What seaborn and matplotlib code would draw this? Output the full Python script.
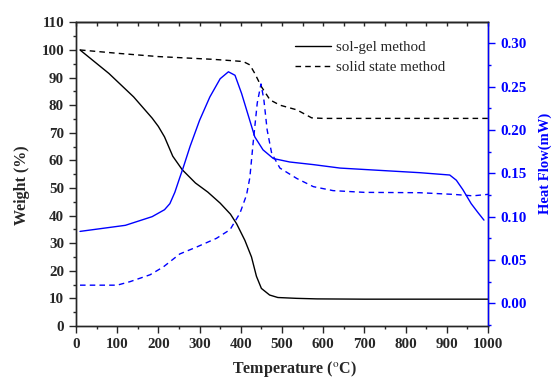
import matplotlib
matplotlib.use("Agg")
import matplotlib.pyplot as plt
import seaborn as sns
import numpy as np
import pandas as pd
from matplotlib.ticker import MultipleLocator, FormatStrFormatter

# weight loss curves (%)
sg_temp = [10, 80, 140, 185, 200, 215, 235, 258, 290, 320, 350, 375, 390, 410, 426,
           438, 450, 470, 490, 535, 585, 700, 800, 900, 1000]
sg_weight = [100, 91.5, 83, 75.3, 72.3, 68.5, 61.5, 56.6, 51.8, 48.5, 44.5, 40.5, 37, 31, 25,
             18, 13.6, 11.2, 10.3, 10, 9.8, 9.7, 9.7, 9.7, 9.7]

ss_temp = [10, 100, 200, 280, 333, 380, 406, 422, 434, 450, 471, 495, 536, 572,
           600, 700, 800, 900, 1000]
ss_weight = [100, 98.8, 97.6, 97, 96.6, 96.1, 95.8, 94.6, 91.5, 86.7, 81.9, 80, 78.3, 75.4,
             75.2, 75.2, 75.2, 75.2, 75.2]

# heat flow curves (mW)
sg_hf_temp = [10, 120, 185, 215, 228, 240, 252, 260, 277, 300, 325, 350, 370, 386,
              402, 418, 434, 454, 479, 519, 576, 641, 750, 834, 907, 923, 939, 959,
              975, 990]
sg_hf = [0.083, 0.090, 0.100, 0.108, 0.115, 0.128, 0.145, 0.156, 0.181, 0.211,
         0.238, 0.259, 0.267, 0.263, 0.242, 0.217, 0.192, 0.177, 0.167, 0.163,
         0.160, 0.156, 0.153, 0.1507, 0.148, 0.142, 0.131, 0.115, 0.105, 0.096]

ss_hf_temp = [10, 100, 131, 180, 212, 252, 293, 341, 374, 398, 414, 422, 430, 440,
              449, 456, 464, 475, 495, 536, 576, 624, 700, 834, 915, 963, 1000]
ss_hf = [0.021, 0.021, 0.025, 0.033, 0.042, 0.057, 0.065, 0.075, 0.085, 0.104,
         0.125, 0.145, 0.185, 0.231, 0.253, 0.235, 0.200, 0.173, 0.156, 0.144,
         0.1346, 0.130, 0.128, 0.1276, 0.1257, 0.124, 0.1257]

sns.set_style("ticks")
plt.rcParams['font.family'] = ['Liberation Serif', 'DejaVu Serif']
plt.rcParams['mathtext.fontset'] = 'stix'

fig = plt.figure(figsize=(5.54, 3.79), dpi=100)
ax = fig.add_axes([0.137, 0.140, 0.744, 0.801])
ax2 = ax.twinx()

blue = "#0000ff"
dash = (0, (4, 3))

sns.lineplot(x=sg_temp, y=sg_weight, ax=ax, color="black", lw=1.0, label="sol-gel method")
sns.lineplot(x=ss_temp, y=ss_weight, ax=ax, color="black", lw=1.0, linestyle=dash,
             label="solid state method")
sns.lineplot(x=sg_hf_temp, y=sg_hf, ax=ax2, color=blue, lw=1.0)
sns.lineplot(x=ss_hf_temp, y=ss_hf, ax=ax2, color=blue, lw=1.0, linestyle=dash)

ax.set_xlim(0, 1000)
ax.set_ylim(0, 110)
ax2.set_ylim(-0.026, 0.324)

ax.xaxis.set_major_locator(MultipleLocator(100))
ax.xaxis.set_minor_locator(MultipleLocator(50))
ax.yaxis.set_major_locator(MultipleLocator(10))
ax.yaxis.set_minor_locator(MultipleLocator(5))
ax2.yaxis.set_major_locator(MultipleLocator(0.05))
ax2.yaxis.set_minor_locator(MultipleLocator(0.025))
ax2.yaxis.set_major_formatter(FormatStrFormatter("%.2f"))

ax.tick_params(which='major', direction='out', length=5, width=1, labelsize=10.8)
ax.tick_params(which='minor', direction='out', length=2.5, width=1)
ax2.tick_params(axis='y', which='major', direction='out', length=5, width=1,
                colors=blue, labelsize=10.8)
ax2.tick_params(axis='y', which='minor', direction='out', length=2.5, width=1, colors=blue)

top = ax.secondary_xaxis('top')
top.xaxis.set_major_locator(MultipleLocator(50))
top.tick_params(direction='in', length=3, width=1, labeltop=False)

for lab in ax.get_xticklabels() + ax.get_yticklabels() + ax2.get_yticklabels():
    lab.set_fontweight('bold')

for s in ax.spines.values():
    s.set_linewidth(1)
for s in ax2.spines.values():
    s.set_linewidth(1)
top.spines['top'].set_linewidth(1)
ax2.spines['right'].set_color(blue)

ax.set_xlabel(r"Temperature ($^\mathrm{o}$C)", fontsize=11.5, fontweight='bold')
ax.set_ylabel("Weight (%)", fontsize=11.5, fontweight='bold')
ax2.set_ylabel("Heat Flow(mW)", fontsize=10.5, fontweight='bold', color=blue)
ax.xaxis.set_label_coords(0.529, -0.108)
ax.yaxis.set_label_coords(-0.112, 0.464)
ax2.yaxis.set_label_coords(1.122, 0.537)

leg = ax.legend(loc='upper left', bbox_to_anchor=(0.5, 0.985), frameon=False,
                fontsize=10.8, handlelength=2.4, handletextpad=0.28, labelspacing=0.45)

fig.savefig("out.png", dpi=100)
